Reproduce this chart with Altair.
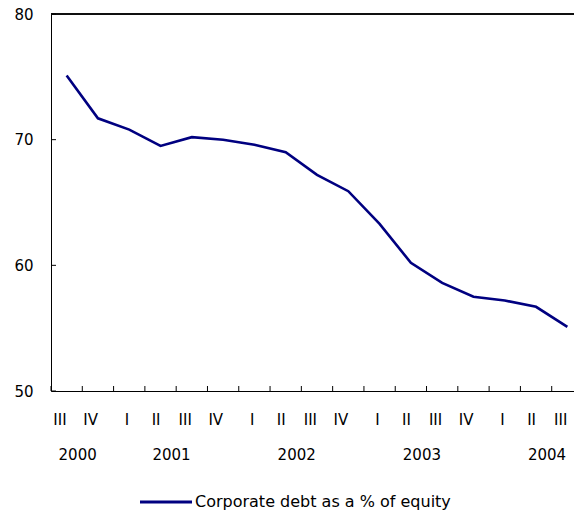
import altair as alt
import pandas as pd

# ---- data ----
years = [2000, 2000, 2001, 2001, 2001, 2001, 2002, 2002, 2002, 2002,
         2003, 2003, 2003, 2003, 2004, 2004, 2004]
quarters = ["III", "IV", "I", "II", "III", "IV", "I", "II", "III", "IV",
            "I", "II", "III", "IV", "I", "II", "III"]
debt_pct_equity = [75.1, 71.7, 70.8, 69.5, 70.2, 70.0, 69.6, 69.0, 67.2, 65.9,
                   63.3, 60.2, 58.6, 57.5, 57.2, 56.7, 55.1]
series_name = "Corporate debt as a % of equity"
y_tick_values = [50, 60, 70, 80]
year_labels = ["2000", "2001", "2002", "2003", "2004"]
year_label_anchor = ["2000-III", "2001-II", "2002-II", "2003-II", "2004-II"]

keys = [f"{y}-{q}" for y, q in zip(years, quarters)]
df = pd.DataFrame({"key": keys, "value": debt_pct_equity, "series": series_name})
df_years = pd.DataFrame({"key": year_label_anchor, "label": year_labels})
df_yt = pd.DataFrame({"v": y_tick_values})
df_leg = pd.DataFrame({"series": [series_name]})

W, H = 532, 377
FONT = "DejaVu Sans"
NAVY = "#000080"
LEG_Y = 488

xscale = alt.Scale(type="band", paddingInner=0, paddingOuter=0, domain=keys)

line = alt.Chart(df).mark_line(strokeWidth=2.6, color=NAVY).encode(
    x=alt.X("key:N", scale=xscale, sort=keys,
            axis=alt.Axis(title=None, ticks=False, domain=True, domainColor="black",
                          labelExpr="split(datum.value, '-')[1]", labelAngle=0,
                          labelPadding=28, labelFontSize=15, labelColor="black",
                          labelFont=FONT, grid=False)),
    y=alt.Y("value:Q", scale=alt.Scale(domain=[50, 80], nice=False, zero=False),
            axis=alt.Axis(title=None, values=y_tick_values, ticks=False, domain=True,
                          domainColor="black", labelPadding=18, labelFontSize=15,
                          labelColor="black", labelFont=FONT, grid=False)),
)

# inward x ticks at quarter boundaries
xticks = alt.Chart(df).mark_rule(color="black", strokeWidth=1).encode(
    x=alt.X("key:N", sort=keys, bandPosition=0),
    y=alt.value(H),
    y2=alt.value(H - 5),
)

# inward y ticks
yticks = alt.Chart(df_yt).mark_rule(color="black", strokeWidth=1).encode(
    y=alt.Y("v:Q"),
    x=alt.value(0),
    x2=alt.value(5),
)

# top border of the plot area
top_border = alt.Chart(df_yt).mark_rule(color="black", strokeWidth=1).encode(
    x=alt.value(0), x2=alt.value(W), y=alt.value(0)
)

# year labels beneath the quarter labels
year_text = alt.Chart(df_years).mark_text(
    fontSize=15, font=FONT, color="black", baseline="middle", align="center", dx=11
).encode(
    x=alt.X("key:N", sort=keys),
    y=alt.value(H + 64),
    text="label:N",
)

# legend (symbol + label)
leg_symbol = alt.Chart(df_leg).mark_rule(color=NAVY, strokeWidth=3).encode(
    x=alt.value(89), x2=alt.value(141), y=alt.value(LEG_Y)
)
leg_label = alt.Chart(df_leg).mark_text(
    fontSize=16, font=FONT, color="black", baseline="middle", align="left"
).encode(
    x=alt.value(144), y=alt.value(LEG_Y), text="series:N"
)

chart = alt.layer(top_border, yticks, xticks, line, year_text, leg_symbol, leg_label).properties(
    width=W, height=H,
    padding={"left": 43, "top": 6, "right": -9, "bottom": 126},
    autosize=alt.AutoSizeParams(type="none"),
).configure(font=FONT).configure_view(stroke="transparent")

chart.save("out.html", embed_options={"renderer": "svg", "actions": False})
